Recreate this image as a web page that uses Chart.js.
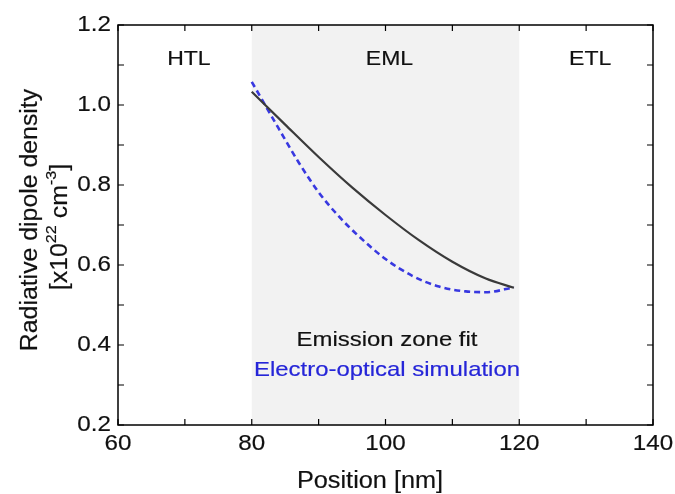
<!DOCTYPE html>
<html>
<head>
<meta charset="utf-8">
<script src="https://cdn.jsdelivr.net/npm/chart.js@4.4.1/dist/chart.umd.min.js"></script>
<style>
html,body{margin:0;padding:0;background:#fff;}
#wrap{width:675px;height:494px;position:relative;}
</style>
</head>
<body>
<div id="wrap"><canvas id="c" width="675" height="494"></canvas></div>
<script>
// ---- data ----
const fitX = [80, 85, 90, 95, 100, 105, 110, 115, 119.2];
const fitY = [1.033, 0.951, 0.870, 0.794, 0.725, 0.662, 0.608, 0.566, 0.543];
const simX = [80, 84, 87, 90, 93, 96, 100, 104, 108, 112, 115, 119.2];
const simY = [1.058, 0.942, 0.857, 0.782, 0.722, 0.672, 0.615, 0.573, 0.546, 0.534, 0.532, 0.544];
const emlRegion = [80, 120];
const layerLabels = ['HTL', 'EML', 'ETL'];
const layerLabelX = [70, 100, 130];
const xTicks = [60, 80, 100, 120, 140];
const yTicks = [0.2, 0.4, 0.6, 0.8, 1.0, 1.2];
const legendTexts = ['Emission zone fit', 'Electro-optical simulation'];

const FONT = 'Arimo, "Liberation Sans", Arial, sans-serif';
const BLUE = '#2525d8';
const INK = '#111';
const STROKE = 0.18;

function txt(ctx, s, x, y, size, sx, color, align) {
  ctx.save();
  ctx.font = size + 'px ' + FONT;
  ctx.fillStyle = color;
  ctx.strokeStyle = color;
  ctx.lineWidth = STROKE;
  ctx.textBaseline = 'middle';
  ctx.textAlign = align || 'center';
  ctx.translate(x, y);
  ctx.scale(sx, 1);
  ctx.fillText(s, 0, 0);
  ctx.strokeText(s, 0, 0);
  ctx.restore();
}

const decor = {
  id: 'decor',
  beforeDatasetsDraw(chart) {
    const {ctx, chartArea: a, scales: {x, y}} = chart;
    ctx.save();
    ctx.fillStyle = '#f2f2f2';
    const x0 = x.getPixelForValue(emlRegion[0]), x1 = x.getPixelForValue(emlRegion[1]);
    ctx.fillRect(x0, a.top, x1 - x0, a.bottom - a.top);
    ctx.restore();
  },
  afterDraw(chart) {
    const {ctx, chartArea: a, scales: {x, y}} = chart;
    ctx.save();
    ctx.strokeStyle = '#000';
    ctx.lineWidth = 1.5;
    ctx.strokeRect(a.left, a.top, a.right - a.left, a.bottom - a.top);
    ctx.lineWidth = 1.2;
    const tl = 6;
    for (let v = 60; v <= 140; v += 10) {
      const px = x.getPixelForValue(v);
      ctx.beginPath();
      ctx.moveTo(px, a.bottom); ctx.lineTo(px, a.bottom - tl);
      ctx.moveTo(px, a.top); ctx.lineTo(px, a.top + tl);
      ctx.stroke();
    }
    for (let i = 2; i <= 12; i++) {
      const py = y.getPixelForValue(i / 10);
      ctx.beginPath();
      ctx.moveTo(a.left, py); ctx.lineTo(a.left + tl, py);
      ctx.moveTo(a.right, py); ctx.lineTo(a.right - tl, py);
      ctx.stroke();
    }
    ctx.restore();
    xTicks.forEach(v => txt(ctx, String(v), x.getPixelForValue(v), 444, 22, 1.1, INK));
    yTicks.forEach(v => txt(ctx, v.toFixed(1), 111, y.getPixelForValue(v), 22, 1.1, INK, 'right'));
    layerLabels.forEach((t, i) => txt(ctx, t, x.getPixelForValue(layerLabelX[i]) + 4, 59, 20, 1.15, INK));
    txt(ctx, legendTexts[0], 387, 340, 21, 1.14, INK);
    txt(ctx, legendTexts[1], 387, 370, 21, 1.14, BLUE);
    txt(ctx, 'Position [nm]', 370, 482, 23, 1.1, INK);
    ctx.save();
    ctx.translate(31, 220);
    ctx.rotate(-Math.PI / 2);
    txt(ctx, 'Radiative dipole density', 0, 0, 23, 1.08, INK);
    ctx.restore();
    ctx.save();
    ctx.translate(59, 227);
    ctx.rotate(-Math.PI / 2);
    ctx.scale(1.08, 1);
    ctx.fillStyle = INK;
    ctx.strokeStyle = INK;
    ctx.lineWidth = STROKE;
    ctx.textBaseline = 'middle';
    const parts = [['[x10', 2, 23], ['22', -7, 15], [' cm', 2, 23], ['-3', -7, 15], [']', 2, 23]];
    let total = 0;
    parts.forEach(p => { ctx.font = p[2] + 'px ' + FONT; total += ctx.measureText(p[0]).width; });
    let cx = -total / 2;
    ctx.textAlign = 'left';
    parts.forEach(p => {
      ctx.font = p[2] + 'px ' + FONT;
      ctx.fillText(p[0], cx, p[1]);
      ctx.strokeText(p[0], cx, p[1]);
      cx += ctx.measureText(p[0]).width;
    });
    ctx.restore();
  }
};

new Chart(document.getElementById('c'), {
  type: 'scatter',
  data: {
    datasets: [
      {
        label: legendTexts[0],
        data: fitX.map((v, i) => ({x: v, y: fitY[i]})),
        showLine: true, borderColor: '#3a3a3a', borderWidth: 2.2,
        pointRadius: 0, cubicInterpolationMode: 'monotone'
      },
      {
        label: legendTexts[1],
        data: simX.map((v, i) => ({x: v, y: simY[i]})),
        showLine: true, borderColor: '#3838e0', borderWidth: 2.6, borderDash: [6, 4],
        pointRadius: 0, cubicInterpolationMode: 'monotone'
      }
    ]
  },
  options: {
    responsive: false, animation: false, devicePixelRatio: 1,
    layout: {padding: {left: 0, top: 25, right: 22, bottom: 0}},
    plugins: {legend: {display: false}, tooltip: {enabled: false}},
    scales: {
      x: {
        type: 'linear', min: 60, max: 140,
        afterFit(s) { s.height = 69; },
        grid: {display: false, drawTicks: false},
        border: {display: false},
        ticks: {display: false}
      },
      y: {
        type: 'linear', min: 0.2, max: 1.2,
        afterFit(s) { s.width = 118; },
        grid: {display: false, drawTicks: false},
        border: {display: false},
        ticks: {display: false}
      }
    }
  },
  plugins: [decor]
});
</script>
</body>
</html>
